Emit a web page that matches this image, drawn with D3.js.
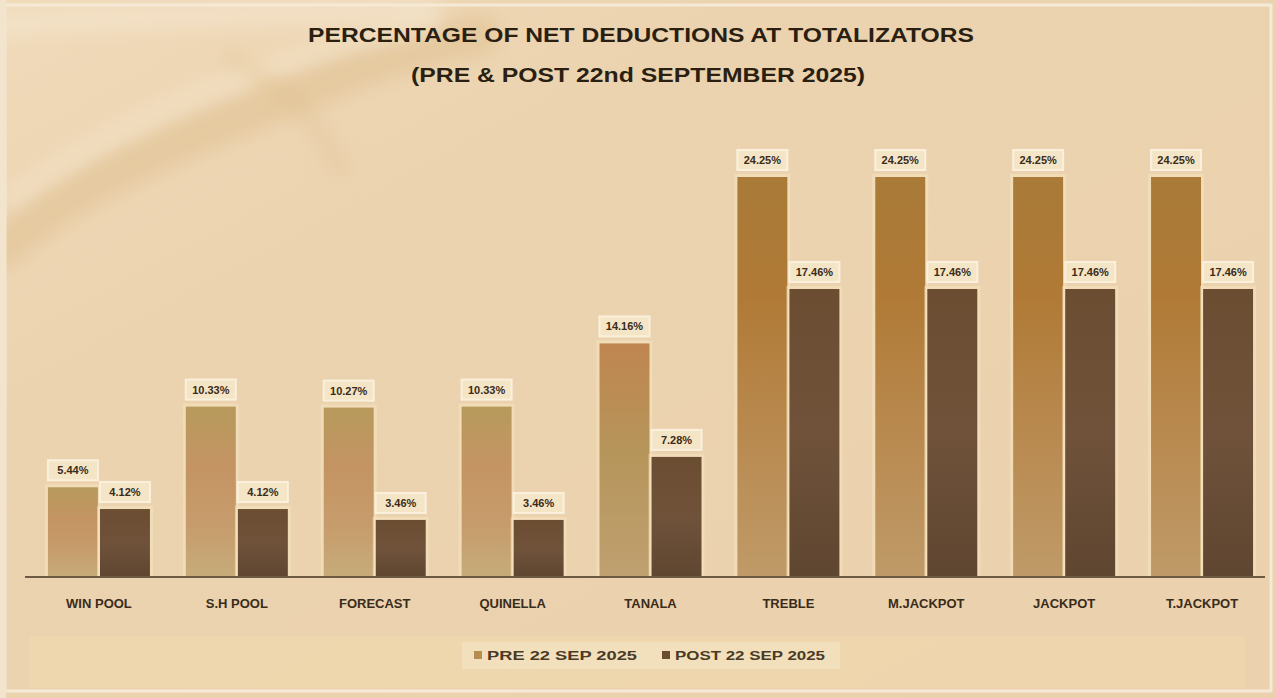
<!DOCTYPE html>
<html>
<head>
<meta charset="utf-8">
<script src="https://cdn.jsdelivr.net/npm/d3@7"></script>
<style>
  html, body { margin: 0; padding: 0; background: #ecd3b0; }
  svg { display: block; }
</style>
</head>
<body>
<svg id="chart" width="1276" height="698"></svg>
<script>
// Net deductions (%) per totalizator pool, before and after 22 Sep 2025
const categories = ["WIN POOL", "S.H POOL", "FORECAST", "QUINELLA", "TANALA", "TREBLE", "M.JACKPOT", "JACKPOT", "T.JACKPOT"];
const preValues  = [5.44, 10.33, 10.27, 10.33, 14.16, 24.25, 24.25, 24.25, 24.25];
const postValues = [4.12, 4.12, 3.46, 3.46, 7.28, 17.46, 17.46, 17.46, 17.46];
const seriesNames = ["PRE 22 SEP 2025", "POST 22 SEP 2025"];
const titleLines = ["PERCENTAGE OF NET DEDUCTIONS AT TOTALIZATORS", "(PRE & POST 22nd SEPTEMBER 2025)"];

const W = 1276, H = 698;
const svg = d3.select("#chart");
const defs = svg.append("defs");
const FONT = "'Liberation Sans Narrow', 'Arial Narrow', 'Liberation Sans', sans-serif";

// ---- background ----
const bg = defs.append("linearGradient").attr("id", "bg").attr("x1", 0).attr("y1", 0).attr("x2", 1).attr("y2", 1);
bg.append("stop").attr("offset", "0%").attr("stop-color", "#f0dab9");
bg.append("stop").attr("offset", "30%").attr("stop-color", "#ecd3b0");
bg.append("stop").attr("offset", "100%").attr("stop-color", "#ebd1ad");
svg.append("rect").attr("width", W).attr("height", H).attr("fill", "url(#bg)");

defs.append("filter").attr("id", "soft").attr("x", "-20%").attr("y", "-20%").attr("width", "140%").attr("height", "140%")
  .append("feGaussianBlur").attr("stdDeviation", 9);

// soft decorative swirls in the upper-left corner
const swirl = svg.append("g").attr("fill", "none").attr("stroke-linecap", "round").attr("filter", "url(#soft)");
swirl.append("path").attr("d", "M0,250 C90,170 210,130 330,80 C390,55 430,45 480,35")
  .attr("stroke", "#dcbb88").attr("stroke-width", 40).attr("opacity", 0.45);
swirl.append("path").attr("d", "M10,200 C120,120 260,60 430,25")
  .attr("stroke", "#f4e6cc").attr("stroke-width", 16).attr("opacity", 0.6);
swirl.append("path").attr("d", "M230,60 C280,80 320,120 340,170")
  .attr("stroke", "#e0c08e").attr("stroke-width", 18).attr("opacity", 0.35);
swirl.append("path").attr("d", "M0,25 C120,18 250,12 430,10")
  .attr("stroke", "#f5e8d2").attr("stroke-width", 22).attr("opacity", 0.6);

// light frame
svg.append("rect").attr("x", 5).attr("y", 5).attr("width", W - 10).attr("height", H - 12)
  .attr("fill", "none").attr("stroke", "#f6ead6").attr("stroke-width", 3);
svg.append("rect").attr("x", 0).attr("y", 0).attr("width", 6).attr("height", H).attr("fill", "#f3e4cd");

// lighter strip behind the legend
svg.append("rect").attr("x", 30).attr("y", 636).attr("width", 1215).attr("height", 52)
  .attr("fill", "#f1d9ad").attr("opacity", 0.55);

// ---- title ----
svg.append("text").attr("x", 641).attr("y", 42).attr("text-anchor", "middle")
  .attr("font-family", FONT).attr("font-weight", "bold").attr("font-size", 20)
  .attr("fill", "#2a1f10").attr("textLength", 666).attr("lengthAdjust", "spacingAndGlyphs")
  .text(titleLines[0]);
svg.append("text").attr("x", 638).attr("y", 82).attr("text-anchor", "middle")
  .attr("font-family", FONT).attr("font-weight", "bold").attr("font-size", 20)
  .attr("fill", "#2a1f10").attr("textLength", 454).attr("lengthAdjust", "spacingAndGlyphs")
  .text(titleLines[1]);

// ---- scales ----
const baseY = 577;
const y = d3.scaleLinear().domain([0, d3.max(preValues)]).range([baseY, 177]);
const x0 = d3.scaleBand().domain(categories).range([30, 1271]).paddingInner(0).paddingOuter(0);
const pairW = 102;
const x1 = d3.scaleBand().domain(seriesNames).range([0, pairW]).paddingInner(0.04);

// bar gradients
function vGrad(id, stops) {
  const g = defs.append("linearGradient").attr("id", id).attr("x1", 0).attr("y1", 0).attr("x2", 0).attr("y2", 1);
  stops.forEach(s => g.append("stop").attr("offset", s[0]).attr("stop-color", s[1]));
}
vGrad("preLow", [["0%", "#b79a5c"], ["35%", "#c49463"], ["70%", "#c79c6c"], ["100%", "#c6ac7a"]]);
vGrad("preMid", [["0%", "#c08550"], ["45%", "#b6955a"], ["100%", "#bfa070"]]);
vGrad("preHigh", [["0%", "#a97a38"], ["30%", "#b07a36"], ["65%", "#b98a50"], ["100%", "#bf9a68"]]);
vGrad("post", [["0%", "#6b4d32"], ["50%", "#70523a"], ["100%", "#5f4630"]]);

const rows = categories.map((c, i) => ({ cat: c, vals: [preValues[i], postValues[i]] }));

const plot = svg.append("g");
const groups = plot.selectAll("g.cat").data(rows).join("g").attr("class", "cat")
  .attr("transform", d => `translate(${x0(d.cat) + x0.bandwidth() / 2 - pairW / 2},0)`);

const bars = groups.selectAll("g.bar")
  .data(d => d.vals.map((v, j) => ({ s: seriesNames[j], j, v })))
  .join("g").attr("class", "bar");

// soft light halo around the bars
bars.append("rect")
  .attr("x", d => x1(d.s) - 3).attr("y", d => y(d.v) - 3)
  .attr("width", x1.bandwidth() + 6).attr("height", d => baseY - y(d.v) + 3)
  .attr("fill", "#f6e3bf").attr("opacity", 0.55);

bars.append("rect")
  .attr("x", d => x1(d.s)).attr("y", d => y(d.v))
  .attr("width", x1.bandwidth()).attr("height", d => baseY - y(d.v))
  .attr("fill", d => d.j === 1 ? "url(#post)" : (d.v > 20 ? "url(#preHigh)" : d.v > 12 ? "url(#preMid)" : "url(#preLow)"));

// data labels in cream boxes
const fmt = v => v.toFixed(2) + "%";
bars.each(function (d) {
  const g = d3.select(this);
  const cx = x1(d.s) + x1.bandwidth() / 2;
  const top = y(d.v);
  g.append("rect").attr("x", cx - 25).attr("y", top - 27).attr("width", 50).attr("height", 20)
    .attr("fill", "#f5e7c8").attr("stroke", "#fbf2df").attr("stroke-width", 2).attr("opacity", 0.95);
  g.append("text").attr("x", cx).attr("y", top - 13).attr("text-anchor", "middle")
    .attr("font-family", FONT).attr("font-weight", "bold").attr("font-size", 11)
    .attr("fill", "#3b2b18").text(fmt(d.v));
});

// ---- category axis ----
const axis = svg.append("g").attr("transform", `translate(0,${baseY})`)
  .call(d3.axisBottom(x0).tickSize(0).tickPadding(22));
axis.select(".domain").attr("stroke", "#6e5a44").attr("stroke-width", 2)
  .attr("d", "M25,0H1265");
axis.selectAll("text").attr("font-family", FONT).attr("font-weight", "bold")
  .attr("font-size", 13).attr("fill", "#3a2c1a");

// ---- legend ----
const legend = svg.append("g").attr("transform", "translate(462,642)");
legend.append("rect").attr("x", 0).attr("y", 0).attr("width", 378).attr("height", 27)
  .attr("fill", "#f3e2c0").attr("opacity", 0.8);
const legendX = [12, 200];
const legendColor = ["#b58f52", "#6b4d32"];
seriesNames.forEach((s, i) => {
  legend.append("rect").attr("x", legendX[i]).attr("y", 9).attr("width", 8).attr("height", 8)
    .attr("fill", legendColor[i]);
  legend.append("text").attr("x", legendX[i] + 13).attr("y", 18)
    .attr("font-family", FONT).attr("font-weight", "bold").attr("font-size", 12)
    .attr("fill", "#4a3a26").attr("textLength", 150).attr("lengthAdjust", "spacingAndGlyphs").text(s);
});
</script>
</body>
</html>
